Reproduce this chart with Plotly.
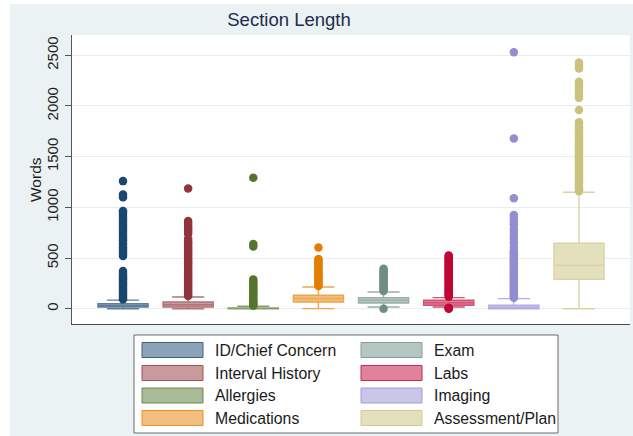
import plotly.graph_objects as go

# ---------------- data ----------------
categories = ["ID/Chief Concern", "Interval History", "Allergies", "Medications",
              "Exam", "Labs", "Imaging", "Assessment/Plan"]
q1_vals = [18, 18, 0, 67, 57, 35, 0, 291]
median_vals = [33, 40, 0, 100, 85, 60, 12, 429]
q3_vals = [51, 67, 8, 133, 110, 84, 35, 647]
lower_fence = [0, 0, 0, 2, 18, 18, 0, 0]
upper_fence = [85, 116, 25, 215, 166, 110, 100, 1150]

outliers_id = [95, 110, 125, 142, 160, 178, 196, 214, 232, 250, 268, 286, 300, 318,
               336, 352, 373, 520, 540, 562, 584, 606, 628, 650, 672, 694, 716, 738,
               760, 782, 804, 826, 848, 870, 892, 914, 936, 955, 965, 1100, 1128, 1259]
outliers_interval = [125, 142, 160, 178, 196, 214, 232, 250, 268, 286, 304, 322, 340,
                     358, 376, 394, 412, 430, 448, 466, 484, 502, 520, 538, 556, 574,
                     592, 610, 628, 646, 664, 690, 740, 760, 780, 800, 820, 845, 865, 1187]
outliers_allergies = [30, 45, 60, 75, 92, 110, 128, 146, 164, 182, 200, 218, 236, 254,
                      272, 290, 615, 640, 1292]
outliers_medications = [225, 240, 256, 272, 288, 304, 320, 336, 352, 368, 384, 400,
                        418, 436, 455, 475, 490, 604]
outliers_exam = [0, 175, 190, 206, 222, 238, 254, 270, 286, 302, 318, 334, 350, 366,
                 382, 395]
outliers_labs = [0, 5, 10, 120, 134, 148, 162, 176, 190, 204, 218, 232, 246, 260, 274,
                 288, 302, 316, 330, 344, 358, 372, 386, 400, 414, 428, 442, 456, 470,
                 484, 498, 512, 525]
outliers_imaging = [110, 126, 142, 158, 174, 190, 206, 222, 238, 254, 270, 286, 302,
                    318, 334, 350, 366, 382, 398, 414, 430, 446, 462, 478, 494, 510,
                    526, 542, 558, 572, 610, 650, 690, 720, 760, 790, 830, 860, 890,
                    925, 1090, 1680, 2530]
outliers_assessment = [1160, 1178, 1196, 1214, 1232, 1250, 1268, 1286, 1304, 1322, 1340,
                       1358, 1376, 1394, 1412, 1430, 1448, 1466, 1484, 1502, 1520, 1538,
                       1556, 1574, 1592, 1610, 1628, 1646, 1664, 1682, 1700, 1718, 1736,
                       1754, 1772, 1790, 1815, 1840, 1960, 2080, 2110, 2150, 2180, 2210,
                       2240, 2370, 2400, 2428]
outliers = [outliers_id, outliers_interval, outliers_allergies, outliers_medications,
            outliers_exam, outliers_labs, outliers_imaging, outliers_assessment]

colors = ["#1a476f", "#90353b", "#55752f", "#e37e00",
          "#6e8e84", "#c10534", "#938dd2", "#cac27e"]

y_ticks = [0, 500, 1000, 1500, 2000, 2500]


# ---------------- helpers ----------------
def mix(hex_color, t):
    """blend colour with white; t=1 -> full colour"""
    h = hex_color.lstrip("#")
    r, g, b = (int(h[i:i + 2], 16) for i in (0, 2, 4))
    r = round(255 + (r - 255) * t)
    g = round(255 + (g - 255) * t)
    b = round(255 + (b - 255) * t)
    return f"rgb({r},{g},{b})"


W, H = 633, 436
PL, PR, PT, PB = 72, 630, 35, 324   # plot area in pixels


def px(x):
    return (x - PL) / (PR - PL)


def py(y):
    return (PB - y) / (PB - PT)


FONT = "Liberation Sans, Arial, Helvetica, sans-serif"

fig = go.Figure()

for i, cat in enumerate(categories):
    fig.add_trace(go.Box(
        x=[i], q1=[q1_vals[i]], median=[median_vals[i]], q3=[q3_vals[i]],
        lowerfence=[lower_fence[i]], upperfence=[upper_fence[i]],
        width=0.77, whiskerwidth=0.64, boxpoints=False,
        fillcolor=mix(colors[i], 0.5),
        line=dict(color=mix(colors[i], 0.7), width=1.4),
        name=cat, showlegend=False, hoverinfo="skip",
    ))

for i, cat in enumerate(categories):
    fig.add_trace(go.Scatter(
        x=[i] * len(outliers[i]), y=outliers[i], mode="markers",
        marker=dict(size=8.5, color=colors[i], line=dict(width=0)),
        name=cat, showlegend=False,
    ))

shapes = []
annotations = []

# white outer strips (top and left)
shapes.append(dict(type="rect", xref="paper", yref="paper",
                   x0=px(0), x1=px(W), y0=py(4), y1=py(0),
                   fillcolor="white", line=dict(width=0), layer="above"))
shapes.append(dict(type="rect", xref="paper", yref="paper",
                   x0=px(0), x1=px(10), y0=py(H), y1=py(0),
                   fillcolor="white", line=dict(width=0), layer="above"))

# legend box
shapes.append(dict(type="rect", xref="paper", yref="paper",
                   x0=px(134), x1=px(558), y0=py(433), y1=py(335),
                   fillcolor="white", line=dict(color="#6a6a6a", width=1)))

row_centers = [350, 373, 395.5, 418]
col_swatch = [(142, 203), (361, 422)]
col_text = [213, 432]
for i, cat in enumerate(categories):
    col = i // 4
    row = i % 4
    yc = row_centers[row]
    sx0, sx1 = col_swatch[col]
    shapes.append(dict(type="rect", xref="paper", yref="paper",
                       x0=px(sx0), x1=px(sx1), y0=py(yc + 7.5), y1=py(yc - 7.5),
                       fillcolor=mix(colors[i], 0.5),
                       line=dict(color=mix(colors[i], 0.85), width=1)))
    annotations.append(dict(xref="paper", yref="paper", x=px(col_text[col]), y=py(yc),
                            xanchor="left", yanchor="middle", showarrow=False,
                            text=cat, font=dict(family=FONT, size=15.8, color="#1a1a1a")))

# y-axis title
annotations.append(dict(xref="paper", yref="paper", x=px(35), y=py(180),
                        xanchor="center", yanchor="middle", showarrow=False,
                        text="Words", textangle=-90,
                        font=dict(family=FONT, size=15.5, color="#1a1a1a")))

fig.update_layout(
    width=W, height=H,
    margin=dict(l=PL, r=W - PR, t=PT, b=H - PB, pad=0),
    paper_bgcolor="#eaf2f3",
    plot_bgcolor="white",
    boxmode="overlay",
    showlegend=False,
    title=dict(text="Section Length", x=289 / W, xref="container", xanchor="center",
               y=1 - 20 / H, yref="container", yanchor="middle",
               font=dict(family=FONT, size=18.5, color="#1f2b4d")),
    xaxis=dict(range=[-0.783, 7.783], showgrid=False, zeroline=False,
               showticklabels=False, ticks="", showline=True,
               linecolor="#4a4a4a", linewidth=1.2, fixedrange=True),
    yaxis=dict(range=[-150, 2700], tickvals=y_ticks,
               ticktext=[str(v) for v in y_ticks], tickangle=-90,
               ticks="outside", ticklen=6, tickcolor="#555555", tickwidth=1,
               showgrid=True, gridcolor="#e6eef0", gridwidth=1,
               zeroline=False, showline=True, linecolor="#555555", linewidth=1,
               tickfont=dict(family=FONT, size=15, color="#222222"),
               ticklabelstandoff=1),
    shapes=shapes,
    annotations=annotations,
)

fig.write_html(
    "out.html",
    config={"displayModeBar": False},
    post_script="document.body.style.margin='0';document.body.style.overflow='hidden';",
)
